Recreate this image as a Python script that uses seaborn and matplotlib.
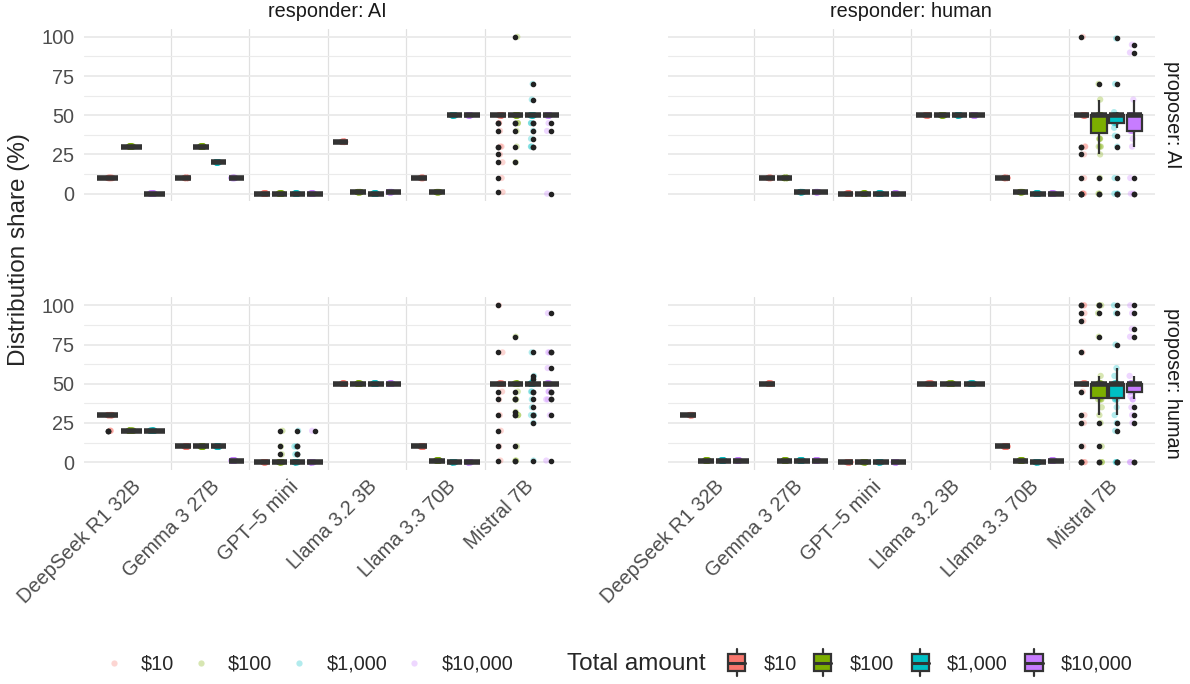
import numpy as np
import pandas as pd
import matplotlib
matplotlib.use("Agg")
import matplotlib.pyplot as plt
import seaborn as sns
from matplotlib.patches import Rectangle, Patch
from matplotlib.lines import Line2D
from matplotlib.legend_handler import HandlerBase
from matplotlib.ticker import MultipleLocator

models = ["DeepSeek R1 32B", "Gemma 3 27B", "GPT–5 mini",
          "Llama 3.2 3B", "Llama 3.3 70B", "Mistral 7B"]
amounts = ["$10", "$100", "$1,000", "$10,000"]
colors = ["#F8766D", "#7CAE00", "#00BFC4", "#C77CFF"]

DS, GE, GP, L2, L3, MI = models

# rows: (model, total amount, share %, number of runs)
# proposer AI / responder AI
ai_ai = [
    (DS, "$10", 10, 40), (DS, "$100", 30, 40), (DS, "$10,000", 0, 40),
    (GE, "$10", 10, 40), (GE, "$100", 30, 40), (GE, "$1,000", 20, 40), (GE, "$10,000", 10, 40),
    (GP, "$10", 0, 40), (GP, "$100", 0, 40), (GP, "$1,000", 0, 40), (GP, "$10,000", 0, 40),
    (L2, "$10", 33, 40), (L2, "$100", 1, 40), (L2, "$1,000", 0, 40), (L2, "$10,000", 1, 40),
    (L3, "$10", 10, 40), (L3, "$100", 1, 40), (L3, "$1,000", 50, 40), (L3, "$10,000", 50, 40),
    (MI, "$10", 50, 31), (MI, "$10", 45, 2), (MI, "$10", 40, 1), (MI, "$10", 30, 2),
    (MI, "$10", 25, 1), (MI, "$10", 20, 1), (MI, "$10", 10, 1), (MI, "$10", 1, 1),
    (MI, "$100", 50, 34), (MI, "$100", 100, 1), (MI, "$100", 45, 2), (MI, "$100", 40, 1),
    (MI, "$100", 30, 1), (MI, "$100", 20, 1),
    (MI, "$1,000", 50, 32), (MI, "$1,000", 70, 1), (MI, "$1,000", 60, 1), (MI, "$1,000", 45, 2),
    (MI, "$1,000", 40, 1), (MI, "$1,000", 35, 1), (MI, "$1,000", 30, 2),
    (MI, "$10,000", 50, 37), (MI, "$10,000", 45, 1), (MI, "$10,000", 40, 1), (MI, "$10,000", 0, 1),
]

# proposer AI / responder human
ai_human = [
    (GE, "$10", 10, 40), (GE, "$100", 10, 40), (GE, "$1,000", 1, 40), (GE, "$10,000", 1, 40),
    (GP, "$10", 0, 40), (GP, "$100", 0, 40), (GP, "$1,000", 0, 40), (GP, "$10,000", 0, 40),
    (L2, "$10", 50, 40), (L2, "$100", 50, 40), (L2, "$1,000", 50, 40), (L2, "$10,000", 50, 40),
    (L3, "$10", 10, 40), (L3, "$100", 1, 40), (L3, "$1,000", 0, 40), (L3, "$10,000", 0, 40),
    (MI, "$10", 50, 31), (MI, "$10", 100, 1), (MI, "$10", 30, 2), (MI, "$10", 25, 1),
    (MI, "$10", 10, 1), (MI, "$10", 0, 4),
    (MI, "$100", 0, 2), (MI, "$100", 10, 1), (MI, "$100", 25, 1), (MI, "$100", 30, 3),
    (MI, "$100", 35, 3), (MI, "$100", 40, 2), (MI, "$100", 45, 2), (MI, "$100", 50, 24),
    (MI, "$100", 60, 1), (MI, "$100", 70, 1),
    (MI, "$1,000", 0, 3), (MI, "$1,000", 10, 1), (MI, "$1,000", 30, 1), (MI, "$1,000", 37, 1),
    (MI, "$1,000", 42, 1), (MI, "$1,000", 45, 4), (MI, "$1,000", 48, 1), (MI, "$1,000", 50, 25),
    (MI, "$1,000", 52, 1), (MI, "$1,000", 70, 1), (MI, "$1,000", 99, 1),
    (MI, "$10,000", 0, 2), (MI, "$10,000", 10, 1), (MI, "$10,000", 30, 1), (MI, "$10,000", 35, 1),
    (MI, "$10,000", 40, 6), (MI, "$10,000", 45, 2), (MI, "$10,000", 50, 24),
    (MI, "$10,000", 60, 1), (MI, "$10,000", 90, 1), (MI, "$10,000", 95, 1),
]

# proposer human / responder AI
human_ai = [
    (DS, "$10", 30, 37), (DS, "$10", 20, 3), (DS, "$100", 20, 40), (DS, "$1,000", 20, 40),
    (GE, "$10", 10, 40), (GE, "$100", 10, 40), (GE, "$1,000", 10, 40), (GE, "$10,000", 1, 40),
    (GP, "$10", 0, 40),
    (GP, "$100", 0, 37), (GP, "$100", 20, 1), (GP, "$100", 10, 1), (GP, "$100", 5, 1),
    (GP, "$1,000", 0, 35), (GP, "$1,000", 20, 1), (GP, "$1,000", 10, 2), (GP, "$1,000", 5, 2),
    (GP, "$10,000", 0, 39), (GP, "$10,000", 20, 1),
    (L2, "$10", 50, 40), (L2, "$100", 50, 40), (L2, "$1,000", 50, 40), (L2, "$10,000", 50, 40),
    (L3, "$10", 10, 40), (L3, "$100", 1, 40), (L3, "$1,000", 0, 40), (L3, "$10,000", 0, 40),
    (MI, "$10", 50, 32), (MI, "$10", 100, 1), (MI, "$10", 70, 1), (MI, "$10", 45, 1),
    (MI, "$10", 40, 1), (MI, "$10", 30, 1), (MI, "$10", 20, 1), (MI, "$10", 10, 1), (MI, "$10", 1, 1),
    (MI, "$100", 50, 30), (MI, "$100", 80, 1), (MI, "$100", 45, 1), (MI, "$100", 40, 2),
    (MI, "$100", 32, 1), (MI, "$100", 30, 2), (MI, "$100", 10, 1), (MI, "$100", 1, 2),
    (MI, "$1,000", 50, 29), (MI, "$1,000", 70, 1), (MI, "$1,000", 55, 1), (MI, "$1,000", 53, 1),
    (MI, "$1,000", 45, 2), (MI, "$1,000", 40, 1), (MI, "$1,000", 35, 1), (MI, "$1,000", 30, 2),
    (MI, "$1,000", 25, 1), (MI, "$1,000", 1, 1),
    (MI, "$10,000", 50, 30), (MI, "$10,000", 95, 1), (MI, "$10,000", 70, 2), (MI, "$10,000", 60, 1),
    (MI, "$10,000", 45, 2), (MI, "$10,000", 40, 2), (MI, "$10,000", 30, 1), (MI, "$10,000", 1, 1),
]

# proposer human / responder human
human_human = [
    (DS, "$10", 30, 40), (DS, "$100", 1, 40), (DS, "$1,000", 1, 40), (DS, "$10,000", 1, 40),
    (GE, "$10", 50, 40), (GE, "$100", 1, 40), (GE, "$1,000", 1, 40), (GE, "$10,000", 1, 40),
    (GP, "$10", 0, 40), (GP, "$100", 0, 40), (GP, "$1,000", 0, 40), (GP, "$10,000", 0, 40),
    (L2, "$10", 50, 40), (L2, "$100", 50, 40), (L2, "$1,000", 50, 40),
    (L3, "$10", 10, 40), (L3, "$100", 1, 40), (L3, "$1,000", 0, 40), (L3, "$10,000", 1, 40),
    (MI, "$10", 50, 28), (MI, "$10", 100, 2), (MI, "$10", 95, 1), (MI, "$10", 90, 1),
    (MI, "$10", 70, 1), (MI, "$10", 45, 1), (MI, "$10", 30, 1), (MI, "$10", 25, 1),
    (MI, "$10", 10, 1), (MI, "$10", 0, 3),
    (MI, "$100", 0, 2), (MI, "$100", 10, 1), (MI, "$100", 25, 1), (MI, "$100", 30, 1),
    (MI, "$100", 35, 1), (MI, "$100", 40, 4), (MI, "$100", 41, 1), (MI, "$100", 45, 1),
    (MI, "$100", 48, 1), (MI, "$100", 50, 22), (MI, "$100", 55, 1), (MI, "$100", 80, 1),
    (MI, "$100", 95, 1), (MI, "$100", 100, 2),
    (MI, "$1,000", 0, 3), (MI, "$1,000", 20, 1), (MI, "$1,000", 25, 1), (MI, "$1,000", 30, 1),
    (MI, "$1,000", 35, 1), (MI, "$1,000", 40, 3), (MI, "$1,000", 41, 1), (MI, "$1,000", 45, 1),
    (MI, "$1,000", 48, 1), (MI, "$1,000", 50, 22), (MI, "$1,000", 55, 1), (MI, "$1,000", 60, 1),
    (MI, "$1,000", 75, 1), (MI, "$1,000", 95, 1), (MI, "$1,000", 100, 1),
    (MI, "$10,000", 0, 2), (MI, "$10,000", 25, 1), (MI, "$10,000", 30, 1), (MI, "$10,000", 35, 1),
    (MI, "$10,000", 40, 2), (MI, "$10,000", 42, 1), (MI, "$10,000", 45, 3), (MI, "$10,000", 48, 1),
    (MI, "$10,000", 50, 23), (MI, "$10,000", 55, 1), (MI, "$10,000", 80, 1), (MI, "$10,000", 85, 1),
    (MI, "$10,000", 95, 1), (MI, "$10,000", 100, 1),
]

row_labels = ["proposer: AI", "proposer: human"]
col_labels = ["responder: AI", "responder: human"]
facets = {(0, 0): ai_ai, (0, 1): ai_human, (1, 0): human_ai, (1, 1): human_human}


def expand(rows):
    d = pd.DataFrame(rows, columns=["model", "amount", "share", "n"])
    d = d.loc[d.index.repeat(d["n"])].reset_index(drop=True)
    return d


sns.set_style("white")
plt.rcParams["font.family"] = ["Liberation Sans", "DejaVu Sans"]
np.random.seed(3)

pal = dict(zip(amounts, colors))
dark = "#333333"
small = 14.3
big = 17.5

fig, axes = plt.subplots(2, 2, figsize=(11.9, 6.84), dpi=100)
fig.subplots_adjust(left=0.0706, right=0.9706, top=0.9576, bottom=0.3129,
                    wspace=0.197, hspace=0.5565)

for (r, c), rows in facets.items():
    ax = axes[r, c]
    d = expand(rows)
    for m in models:
        sub = d[d["model"] == m]
        if sub.empty:
            continue
        present = [a for a in amounts if a in set(sub["amount"])]
        sns.stripplot(data=sub, x="model", y="share", hue="amount", order=models,
                      hue_order=present, palette=pal, dodge=True, jitter=True,
                      size=4.5, alpha=0.3, linewidth=0, legend=False, ax=ax, zorder=1)
        sns.boxplot(data=sub, x="model", y="share", hue="amount", order=models,
                    hue_order=present, palette=pal, saturation=1, dodge=True,
                    width=0.9, gap=0.12, linewidth=1.6, linecolor=dark,
                    showcaps=False, fliersize=3,
                    flierprops=dict(marker="o", markerfacecolor="#222222",
                                    markeredgecolor="#222222"),
                    medianprops=dict(linewidth=4, color=dark),
                    legend=False, ax=ax)

    ax.set_xlim(-0.6, len(models) - 0.4)
    ax.set_ylim(-5, 105)
    ax.set_yticks([0, 25, 50, 75, 100])
    ax.yaxis.set_minor_locator(MultipleLocator(12.5))
    ax.set_xticks(np.arange(len(models) - 1) + 0.5, minor=True)
    ax.grid(False)
    ax.grid(axis="y", which="major", color="#ebebeb", linewidth=1.4)
    ax.grid(axis="y", which="minor", color="#ebebeb", linewidth=0.8)
    ax.grid(axis="x", which="minor", color="#e0e0e0", linewidth=0.9)
    ax.set_axisbelow(True)
    for s in ax.spines.values():
        s.set_visible(False)
    ax.tick_params(which="both", length=0, labelsize=small, labelcolor="#4d4d4d")
    ax.tick_params(axis="y", pad=7)
    ax.set_xlabel("")
    ax.set_ylabel("")
    if r == 1:
        ax.set_xticks(range(len(models)))
        ax.set_xticklabels(models, rotation=45, ha="right", va="top",
                           rotation_mode="anchor")
        ax.tick_params(axis="x", pad=5)
    else:
        ax.set_xticklabels([])
    if c == 1:
        ax.set_yticklabels([])
    if r == 0:
        ax.set_title(col_labels[c], fontsize=small, color="#1a1a1a", pad=9)
    if c == 1:
        ax.text(1.035, 0.5, row_labels[r], transform=ax.transAxes, rotation=-90,
                ha="center", va="center", fontsize=small, color="#1a1a1a")

fig.text(0.016, 0.635, "Distribution share (%)", rotation=90, ha="center",
         va="center", fontsize=big)


class BoxGlyph(HandlerBase):
    def create_artists(self, legend, orig_handle, xd, yd, w, h, fontsize, trans):
        fc = orig_handle.get_facecolor()
        cx = -xd + w / 2
        bw = w * 0.72
        y0 = -yd
        box = Rectangle((cx - bw / 2, y0 - 0.12 * h), bw, 1.24 * h, facecolor=fc,
                        edgecolor=dark, linewidth=1.6, transform=trans)
        med = Line2D([cx - bw / 2, cx + bw / 2], [y0 + h / 2] * 2, color=dark,
                     linewidth=2.2, transform=trans)
        lo = Line2D([cx, cx], [y0 - 0.5 * h, y0 - 0.12 * h], color=dark,
                    linewidth=1.6, transform=trans)
        hi = Line2D([cx, cx], [y0 + 1.12 * h, y0 + 1.5 * h], color=dark,
                    linewidth=1.6, transform=trans)
        return [lo, hi, box, med]


labels = [a.replace("$", r"\$") for a in amounts]
dots = [Line2D([], [], marker="o", linestyle="", markersize=4.5, color=col,
               alpha=0.3, markeredgewidth=0) for col in colors]
fig.legend(dots, labels, loc="center left", bbox_to_anchor=(0.0874, 0.0292),
           ncol=4, frameon=False, fontsize=small, handlelength=1.0,
           handletextpad=0.86, columnspacing=0.86, borderpad=0, borderaxespad=0)

fig.text(567 / 1190, 0.0292, "Total amount", ha="left", va="center", fontsize=big)
boxes = [Patch(facecolor=col) for col in colors]
fig.legend(boxes, labels, loc="center left", bbox_to_anchor=(0.6090, 0.0292),
           ncol=4, frameon=False, fontsize=small, handlelength=1.2,
           handletextpad=0.76, columnspacing=0.71, borderpad=0, borderaxespad=0,
           handler_map={Patch: BoxGlyph()})

fig.savefig("out.png", dpi=100)
